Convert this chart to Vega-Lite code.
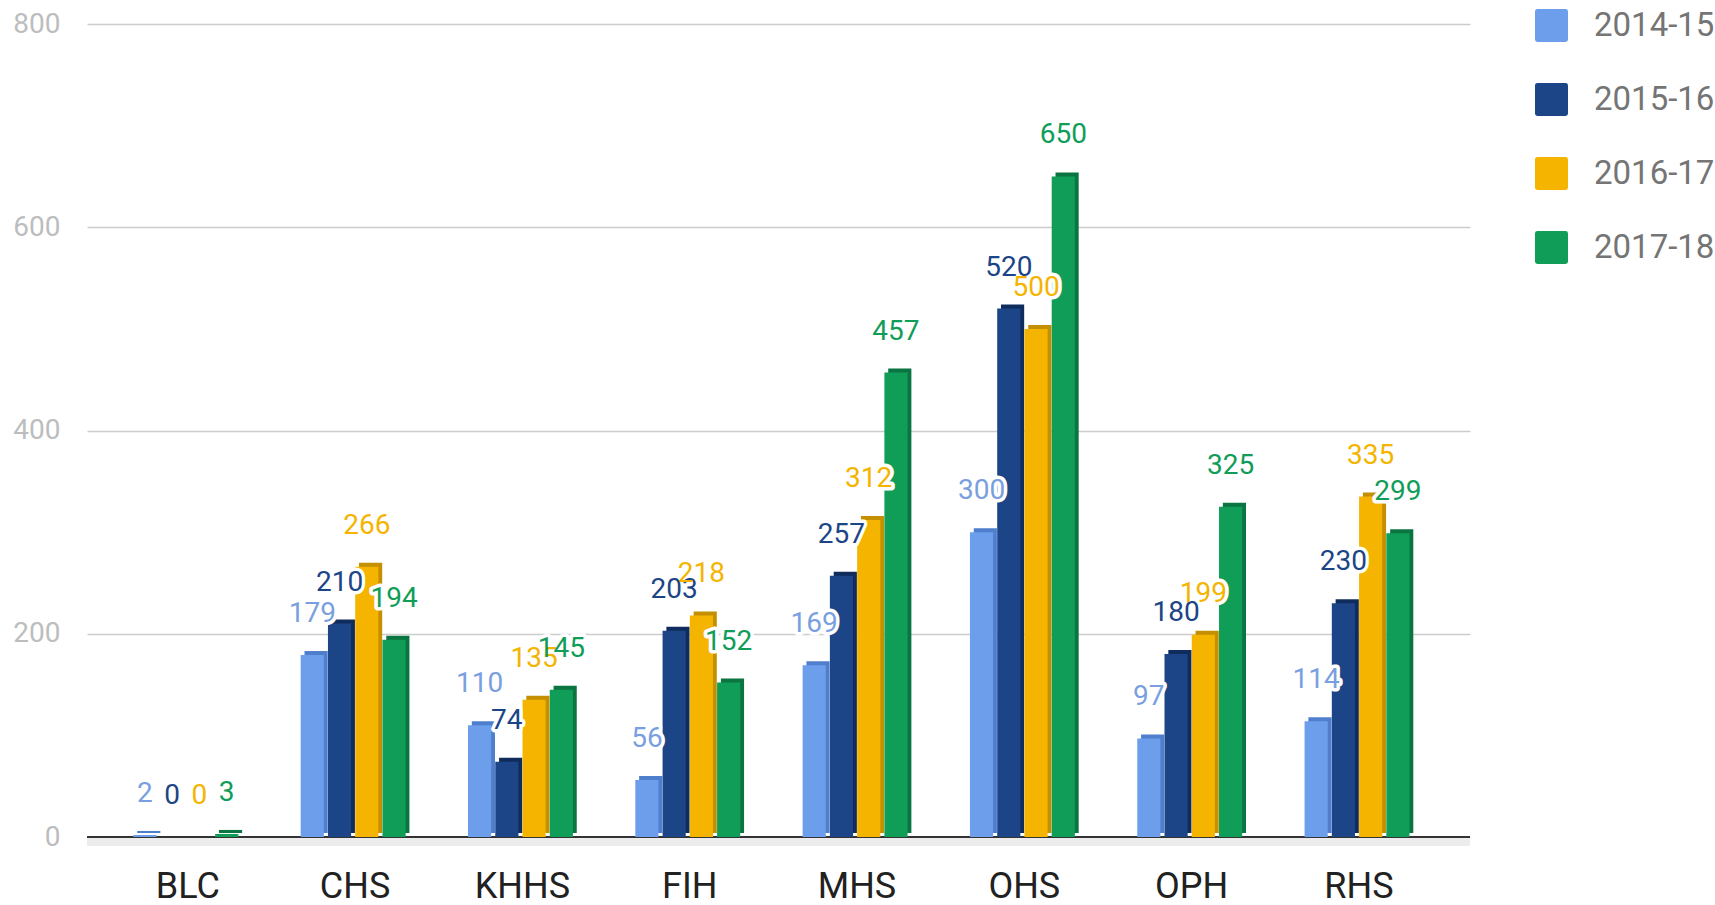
{
  "$schema": "https://vega.github.io/schema/vega-lite/v6.json",
  "width": 1383,
  "height": 813,
  "autosize": "none",
  "padding": {"left": 87, "top": 24, "right": 245, "bottom": 68},
  "background": "white",
  "config": {
    "font": "Roboto",
    "view": {"stroke": null}
  },
  "data": {
    "values": [
      {"school": "BLC", "year": "2014-15", "value": 2},
      {"school": "BLC", "year": "2015-16", "value": 0},
      {"school": "BLC", "year": "2016-17", "value": 0},
      {"school": "BLC", "year": "2017-18", "value": 3},
      {"school": "CHS", "year": "2014-15", "value": 179},
      {"school": "CHS", "year": "2015-16", "value": 210},
      {"school": "CHS", "year": "2016-17", "value": 266},
      {"school": "CHS", "year": "2017-18", "value": 194},
      {"school": "KHHS", "year": "2014-15", "value": 110},
      {"school": "KHHS", "year": "2015-16", "value": 74},
      {"school": "KHHS", "year": "2016-17", "value": 135},
      {"school": "KHHS", "year": "2017-18", "value": 145},
      {"school": "FIH", "year": "2014-15", "value": 56},
      {"school": "FIH", "year": "2015-16", "value": 203},
      {"school": "FIH", "year": "2016-17", "value": 218},
      {"school": "FIH", "year": "2017-18", "value": 152},
      {"school": "MHS", "year": "2014-15", "value": 169},
      {"school": "MHS", "year": "2015-16", "value": 257},
      {"school": "MHS", "year": "2016-17", "value": 312},
      {"school": "MHS", "year": "2017-18", "value": 457},
      {"school": "OHS", "year": "2014-15", "value": 300},
      {"school": "OHS", "year": "2015-16", "value": 520},
      {"school": "OHS", "year": "2016-17", "value": 500},
      {"school": "OHS", "year": "2017-18", "value": 650},
      {"school": "OPH", "year": "2014-15", "value": 97},
      {"school": "OPH", "year": "2015-16", "value": 180},
      {"school": "OPH", "year": "2016-17", "value": 199},
      {"school": "OPH", "year": "2017-18", "value": 325},
      {"school": "RHS", "year": "2014-15", "value": 114},
      {"school": "RHS", "year": "2015-16", "value": 230},
      {"school": "RHS", "year": "2016-17", "value": 335},
      {"school": "RHS", "year": "2017-18", "value": 299}
    ]
  },
  "encoding": {
    "x": {
      "field": "school",
      "type": "nominal",
      "sort": ["BLC", "CHS", "KHHS", "FIH", "MHS", "OHS", "OPH", "RHS"],
      "scale": {"paddingInner": 0.35, "paddingOuter": 0.308, "align": 0.45},
      "axis": {
        "title": null,
        "domain": false,
        "ticks": false,
        "labelAngle": 0,
        "labelFontSize": 36,
        "labelColor": "#212121",
        "labelPadding": 32
      }
    },
    "y": {
      "field": "value",
      "type": "quantitative",
      "scale": {"domain": [0, 800], "nice": false},
      "axis": {
        "title": null,
        "domain": false,
        "ticks": false,
        "values": [0, 200, 400, 600, 800],
        "grid": true,
        "gridColor": "#cccccc",
        "gridWidth": 1.5,
        "labelFontSize": 28,
        "labelColor": "#bdbdbd",
        "labelPadding": 27
      }
    }
  },
  "layer": [
    {
      "mark": {"type": "rule", "color": "#ececec", "strokeWidth": 8, "yOffset": 5},
      "encoding": {"y": {"datum": 0}, "x": null}
    },
    {
      "mark": {"type": "rule", "color": "#333333", "strokeWidth": 2},
      "encoding": {"y": {"datum": 0}, "x": null}
    },
    {
      "mark": {"type": "bar", "yOffset": -4, "y2Offset": 2},
      "encoding": {
        "xOffset": {
          "field": "year",
          "type": "nominal",
          "scale": {"paddingInner": 0.15, "paddingOuter": 0.07, "align": 1}
        },
        "color": {
          "field": "year",
          "type": "nominal",
          "scale": {"range": ["#4f7fcc", "#0f2c5c", "#c48f00", "#0a7540"]},
          "legend": null
        }
      }
    },
    {
      "layer": [
        {
          "mark": {"type": "bar", "y2Offset": 6},
          "encoding": {
            "color": {
              "field": "year",
              "type": "nominal",
              "scale": {"range": ["#6d9eeb", "#1c4587", "#f4b400", "#0f9d58"]},
              "legend": {
                "title": null,
                "orient": "none",
                "legendX": 1448,
                "legendY": -15,
                "symbolType": "M-0.85,-1 H0.85 Q1,-1 1,-0.85 V0.85 Q1,1 0.85,1 H-0.85 Q-1,1 -1,0.85 V-0.85 Q-1,-1 -0.85,-1 Z",
                "symbolSize": 1089,
                "symbolStrokeWidth": 0,
                "symbolOpacity": 1,
                "labelFontSize": 33,
                "labelColor": "#757575",
                "labelOffset": 26,
                "rowPadding": 40,
                "labelLimit": 300
              }
            }
          }
        },
        {
          "mark": {
            "type": "text",
            "baseline": "middle",
            "dy": -41,
            "fontSize": 28,
            "stroke": "white",
            "strokeWidth": 7,
            "strokeJoin": "round",
            "fill": "white"
          },
          "encoding": {"text": {"field": "value", "type": "quantitative"}}
        },
        {
          "mark": {"type": "text", "baseline": "middle", "dy": -41, "fontSize": 28},
          "encoding": {
            "text": {"field": "value", "type": "quantitative"},
            "color": {
              "field": "year",
              "type": "nominal",
              "scale": {"range": ["#7a9fe0", "#1c4587", "#f4b400", "#0f9d58"]},
              "legend": null
            }
          }
        }
      ],
      "encoding": {
        "xOffset": {
          "field": "year",
          "type": "nominal",
          "scale": {"paddingInner": 0.15, "paddingOuter": 0.07, "align": 0}
        }
      },
      "resolve": {"scale": {"color": "independent"}}
    }
  ],
  "resolve": {"scale": {"color": "independent", "xOffset": "independent"}}
}
